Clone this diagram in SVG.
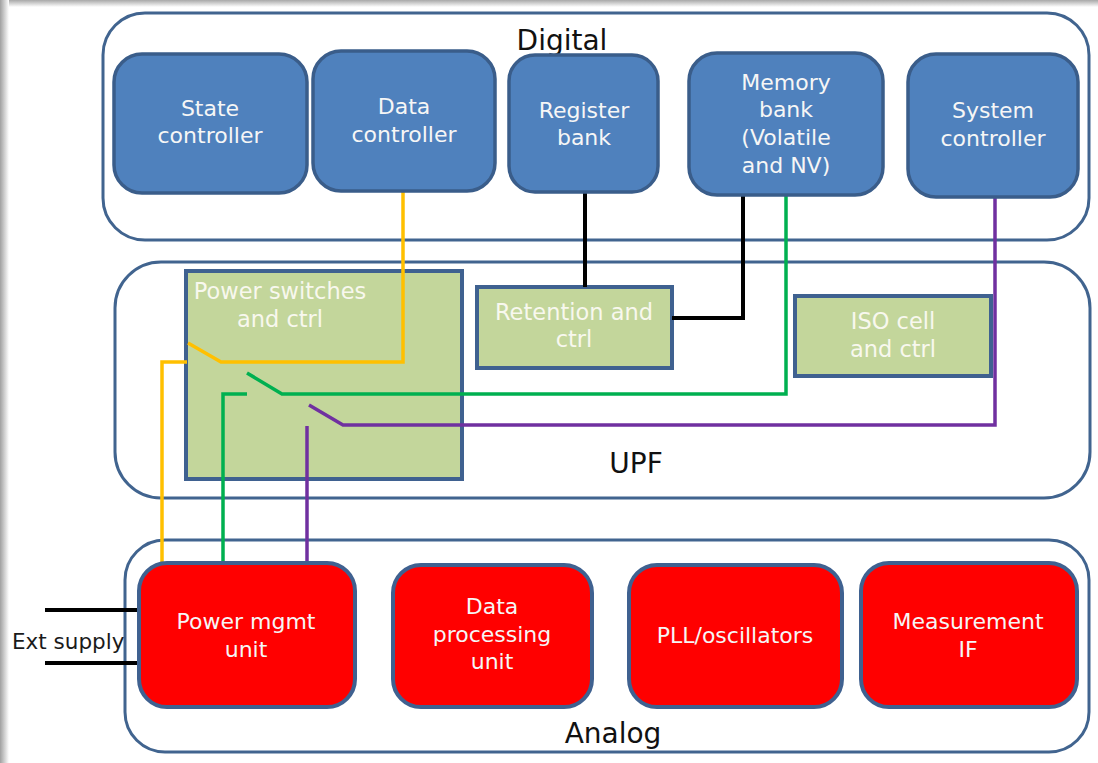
<svg xmlns="http://www.w3.org/2000/svg" width="1098" height="763" viewBox="0 0 1098 763">
  <defs>
    <linearGradient id="shTop" x1="0" y1="0" x2="0" y2="1">
      <stop offset="0" stop-color="#a8a8a8"/>
      <stop offset="1" stop-color="#ffffff"/>
    </linearGradient>
    <linearGradient id="shLeft" x1="0" y1="0" x2="1" y2="0">
      <stop offset="0" stop-color="#a0a0a0"/>
      <stop offset="1" stop-color="#ffffff"/>
    </linearGradient>
  </defs>
  <style>
    .container { fill: #ffffff; stroke: #41648f; stroke-width: 3; }
    .blue { fill: #4f81bd; stroke: #3a5d8a; stroke-width: 3.5; }
    .red { fill: #ff0000; stroke: #3f6190; stroke-width: 4; }
    .green { fill: #c3d69b; stroke: #3f6190; stroke-width: 4; }
    .title { font-family: "DejaVu Sans", "Liberation Sans", sans-serif; font-size: 28px; fill: #111111; text-anchor: middle; }
    .lbl { font-family: "DejaVu Sans", "Liberation Sans", sans-serif; font-size: 22px; fill: #f6f6f6; text-anchor: middle; }
    .glbl { font-family: "DejaVu Sans", "Liberation Sans", sans-serif; font-size: 22.5px; fill: #f8f8ee; text-anchor: middle; }
    .ext { font-family: "DejaVu Sans", "Liberation Sans", sans-serif; font-size: 21.5px; fill: #1a1a1a; }
    .wire { fill: none; stroke-width: 3.5; stroke-linejoin: miter; }
    .yellow { stroke: #ffc000; }
    .grn { stroke: #00b050; }
    .purple { stroke: #7030a0; }
    .black { stroke: #000000; stroke-width: 4; }
  </style>

  <rect x="0" y="0" width="1098" height="763" fill="#ffffff"/>
  <rect x="0" y="0" width="1098" height="7" fill="url(#shTop)"/>
  <rect x="0" y="0" width="9" height="763" fill="url(#shLeft)"/>

  <!-- containers -->
  <g id="digital">
    <rect class="container" x="103" y="13" width="986" height="227" rx="42"/>
    <text class="title" x="562" y="50">Digital</text>
  </g>
  <g id="upf">
    <rect class="container" x="115" y="262" width="975" height="236" rx="46"/>
    <text class="title" x="636" y="473">UPF</text>
  </g>
  <g id="analog">
    <rect class="container" x="125" y="540" width="964" height="212" rx="40"/>
    <text class="title" x="613" y="743">Analog</text>
  </g>

  <!-- UPF blocks -->
  <g id="power-switches">
    <rect class="green" x="186" y="271" width="276" height="208"/>
    <text class="glbl" x="280" y="299">Power switches</text>
    <text class="glbl" x="280" y="327">and ctrl</text>
  </g>
  <g id="retention">
    <rect class="green" x="477" y="287" width="195" height="81"/>
    <text class="glbl" x="574" y="320">Retention and</text>
    <text class="glbl" x="574" y="347">ctrl</text>
  </g>
  <g id="iso-cell">
    <rect class="green" x="795" y="296" width="196" height="80"/>
    <text class="glbl" x="893" y="329">ISO cell</text>
    <text class="glbl" x="893" y="357">and ctrl</text>
  </g>

  <!-- connectors -->
  <g id="connectors">
    <path class="wire yellow" d="M403,191 V362 H221 L188,343"/>
    <path class="wire yellow" d="M187,362 H162 V564"/>
    <path class="wire grn" d="M786,195 V394 H282 L247,373"/>
    <path class="wire grn" d="M247,394 H223 V564"/>
    <path class="wire purple" d="M995,197 V425 H343 L309,405"/>
    <path class="wire purple" d="M307,426 V564"/>
    <path class="wire black" d="M585,192 V287"/>
    <path class="wire black" d="M743,195 V318 H672"/>
    <path class="wire black" d="M45,610 H140"/>
    <path class="wire black" d="M45,663 H140"/>
  </g>
  <text class="ext" x="12" y="649">Ext supply</text>

  <!-- Digital blocks -->
  <g id="state-controller">
    <rect class="blue" x="114" y="54" width="193" height="139" rx="28"/>
    <text class="lbl" x="210" y="116">State</text>
    <text class="lbl" x="210" y="143">controller</text>
  </g>
  <g id="data-controller">
    <rect class="blue" x="313" y="51" width="182" height="140" rx="28"/>
    <text class="lbl" x="404" y="114">Data</text>
    <text class="lbl" x="404" y="142">controller</text>
  </g>
  <g id="register-bank">
    <rect class="blue" x="509" y="55" width="149" height="137" rx="26"/>
    <text class="lbl" x="584" y="118">Register</text>
    <text class="lbl" x="584" y="145">bank</text>
  </g>
  <g id="memory-bank">
    <rect class="blue" x="689" y="53" width="194" height="142" rx="28"/>
    <text class="lbl" x="786" y="90">Memory</text>
    <text class="lbl" x="786" y="117">bank</text>
    <text class="lbl" x="786" y="145">(Volatile</text>
    <text class="lbl" x="786" y="173">and NV)</text>
  </g>
  <g id="system-controller">
    <rect class="blue" x="908" y="54" width="170" height="143" rx="28"/>
    <text class="lbl" x="993" y="118">System</text>
    <text class="lbl" x="993" y="146">controller</text>
  </g>

  <!-- Analog blocks -->
  <g id="power-mgmt">
    <rect class="red" x="139" y="563" width="216" height="144" rx="28"/>
    <text class="lbl" x="246" y="629">Power mgmt</text>
    <text class="lbl" x="246" y="657">unit</text>
  </g>
  <g id="data-processing">
    <rect class="red" x="393" y="565" width="199" height="142" rx="28"/>
    <text class="lbl" x="492" y="614">Data</text>
    <text class="lbl" x="492" y="642">processing</text>
    <text class="lbl" x="492" y="669">unit</text>
  </g>
  <g id="pll">
    <rect class="red" x="629" y="565" width="213" height="142" rx="28"/>
    <text class="lbl" x="735" y="643">PLL/oscillators</text>
  </g>
  <g id="measurement">
    <rect class="red" x="861" y="563" width="216" height="144" rx="28"/>
    <text class="lbl" x="968" y="629">Measurement</text>
    <text class="lbl" x="968" y="657">IF</text>
  </g>
</svg>
